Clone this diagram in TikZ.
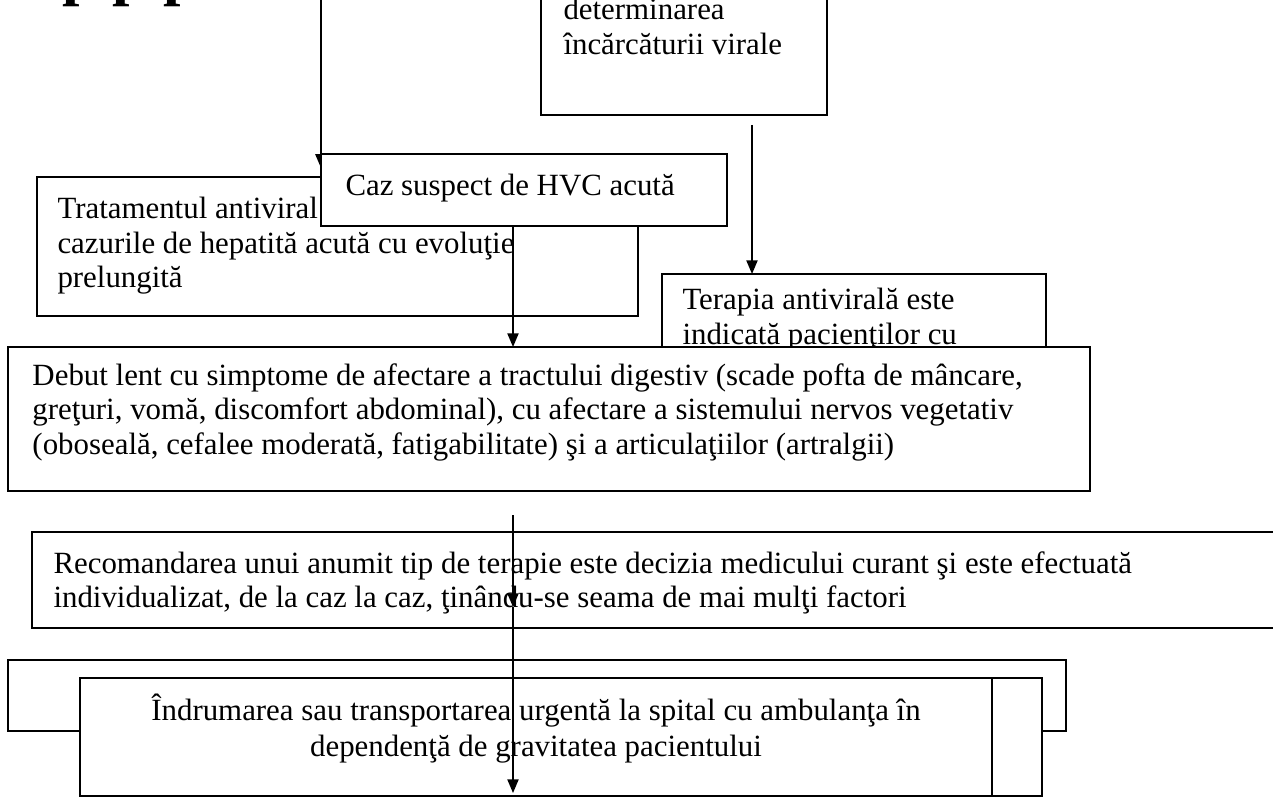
\documentclass[tikz,border=0pt]{standalone}
\usepackage{fontspec}
\setmainfont{Liberation Serif}
\usetikzlibrary{arrows.meta}

\tikzset{
  blk/.style 2 args={draw, fill=white, line width=0.8pt, anchor=north west,
    inner sep=0pt, outer sep=0pt, minimum width=#1*0.4pt, minimum height=#2*0.4pt},
  txt/.style={anchor=north west, align=left, inner sep=0pt,
    font=\fontsize{12.35}{13.8}\selectfont},
  arr/.style={line width=0.6pt, -{Triangle[length=5.5pt,width=4.5pt]}}
}

\begin{document}
\begin{tikzpicture}[x=0.4pt,y=-0.4pt]
\clip (0,0) rectangle (1273,799);

% title line, only its lowest part is on the page
\node[anchor=base west, inner sep=0pt, font=\fontsize{25}{30}\selectfont\bfseries] (head) at (62,-6) {p p p};

\coordinate (mid) at (513,0);

% upper part
\node[blk={286}{215}] (tbox) at (541,-100) {};
\node[txt] (tboxt) at ([shift={(22,98)}]tbox.north west) {determinarea\\încărcăturii virale};

\node[blk={384}{120}] (tera) at (662,274) {};
\node[txt] (terat) at ([shift={(20,14)}]tera.north west) {Terapia antivirală este\\indicată pacienţilor cu};
\coordinate (tb) at (752,125);
\draw[arr] (tb) -- (tb |- tera.north);

\coordinate (top) at (321,0);
\coordinate (topend) at (321,168);
\draw[arr] (top) -- (topend);

\node[blk={601}{139}] (trat) at (37,177) {};
\node[txt] (tratt) at ([shift={(20,20)}]trat.north west) {Tratamentul antiviral\\cazurile de hepatită acută cu evoluţie\\prelungită};

\node[blk={406}{72}] (caz) at (321,154) {};
\node[txt] (cazt) at ([shift={(24,20)}]caz.north west) {Caz suspect de HVC acută};

\node[blk={1082}{144}] (deb) at (8,347) {};
\node[txt] (debt) at ([shift={(24,16)}]deb.north west) {Debut lent cu simptome de afectare a tractului digestiv (scade pofta de mâncare,\\greţuri, vomă, discomfort abdominal), cu afectare a sistemului nervos vegetativ\\(oboseală, cefalee moderată, fatigabilitate) şi a articulaţiilor (artralgii)};
\draw[arr] (mid |- caz.south) -- (mid |- deb.north);

% lower part
\node[blk={1300}{96}] (rec) at (32,532) {};
\node[txt] (rect) at ([shift={(21,19)}]rec.north west) {Recomandarea unui anumit tip de terapie este decizia medicului curant şi este efectuată\\individualizat, de la caz la caz, ţinându-se seama de mai mulţi factori};

\node[blk={1058}{71}] (back) at (8,660) {};

\node[blk={962}{118}] (ind) at (80,678) {};
\draw[line width=0.8pt] (ind.north west) ++(912,0) -- ++(0,118);
\node[txt, anchor=north, align=center, font=\fontsize{12.35}{14.6}\selectfont] (indt) at (536,693) {Îndrumarea sau transportarea urgentă la spital cu ambulanţa în\\dependenţă de gravitatea pacientului};

\coordinate (r1) at (513,515);
\coordinate (r2) at (513,607);
\coordinate (r3) at (513,793);
\draw[arr] (r1) -- (r2);
\draw[arr] (r2) -- (r3);
\end{tikzpicture}
\end{document}
